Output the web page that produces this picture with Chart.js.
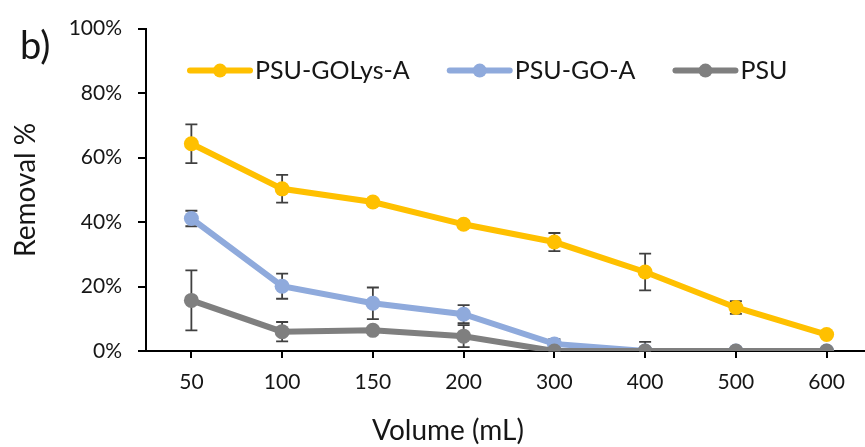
<!DOCTYPE html>
<html>
<head>
<meta charset="utf-8">
<script src="https://cdn.jsdelivr.net/npm/chart.js@4.4.1/dist/chart.umd.min.js"></script>
<style>
    html, body { margin: 0; padding: 0; background: #fff; overflow: hidden; }
    #wrap { position: relative; width: 896px; height: 447px; }
</style>
</head>
<body>
<div id="wrap"><canvas id="removalChart"></canvas></div>
<script>
// values (Removal %, error = half height of the bar)
const volumes = ['50', '100', '150', '200', '300', '400', '500', '600'];
const golysA = [64.3, 50.3, 46.2, 39.3, 33.8, 24.5, 13.5, 5.1];
const golysAErr = [6.0, 4.3, 1.0, 1.0, 2.8, 5.7, 2.0, 0.5];
const goA = [41.1, 20.1, 14.8, 11.4, 2.2, 0, 0, 0];
const goAErr = [2.4, 3.9, 4.9, 2.8, 1.5, 0, 0, 0];
const psu = [15.7, 6.0, 6.4, 4.6, 0, 0, 0, 0];
const psuErr = [9.3, 3.0, 0.8, 3.4, 0.5, 2.8, 0, 0];
const yTicks = [0, 20, 40, 60, 80, 100];

const FONT = 'Lato';
const TEXT = '#161616';

// error bars, drawn under the lines and markers
const errorBars = {
    id: 'errorBars',
    beforeDatasetsDraw(chart) {
        const { ctx, scales: { x, y } } = chart;
        ctx.save();
        ctx.strokeStyle = '#404040';
        ctx.lineWidth = 1.8;
        chart.data.datasets.forEach(ds => {
            ds.data.forEach((v, i) => {
                const e = ds.errors[i];
                if (!e) return;
                const px = x.getPixelForValue(i);
                const top = y.getPixelForValue(v + e);
                const bot = y.getPixelForValue(Math.max(v - e, 0));
                ctx.beginPath();
                ctx.moveTo(px, top); ctx.lineTo(px, bot);
                ctx.moveTo(px - 6, top); ctx.lineTo(px + 6, top);
                ctx.moveTo(px - 6, bot); ctx.lineTo(px + 6, bot);
                ctx.stroke();
            });
        });
        ctx.restore();
    }
};

// legend inside the plot (line + marker), panel letter and x title
const extras = {
    id: 'extras',
    afterDraw(chart) {
        const { ctx, chartArea } = chart;
        ctx.save();
        let lx = chartArea.left + 44;
        const ly = chartArea.top + 42;
        ctx.font = `25px ${FONT}`;
        ctx.textBaseline = 'middle';
        ctx.textAlign = 'left';
        chart.data.datasets.forEach(ds => {
            ctx.strokeStyle = ds.borderColor;
            ctx.lineWidth = 6;
            ctx.lineCap = 'round';
            ctx.beginPath();
            ctx.moveTo(lx, ly); ctx.lineTo(lx + 60, ly);
            ctx.stroke();
            ctx.fillStyle = ds.borderColor;
            ctx.beginPath();
            ctx.arc(lx + 30, ly, 7, 0, Math.PI * 2);
            ctx.fill();
            ctx.fillStyle = TEXT;
            ctx.fillText(ds.label, lx + 65, ly);
            lx += 65 + ctx.measureText(ds.label).width + 40;
        });

        ctx.font = `38px ${FONT}`;
        ctx.fillText('b)', 20, 47);

        ctx.font = `28px ${FONT}`;
        ctx.textAlign = 'center';
        ctx.fillText('Volume (mL)', chart.width / 2, 431);
        ctx.restore();
    }
};

const ctx = document.getElementById('removalChart').getContext('2d');
let myChart = new Chart(ctx, {
    type: 'line',
    data: {
        labels: volumes,
        datasets: [{
            label: 'PSU-GOLys-A',
            data: golysA,
            errors: golysAErr,
            borderColor: '#FFC000',
            backgroundColor: '#FFC000',
            order: 3
        }, {
            label: 'PSU-GO-A',
            data: goA,
            errors: goAErr,
            borderColor: '#8FAADC',
            backgroundColor: '#8FAADC',
            order: 2
        }, {
            label: 'PSU',
            data: psu,
            errors: psuErr,
            borderColor: '#7F7F7F',
            backgroundColor: '#7F7F7F',
            order: 1
        }]
    },
    options: {
        responsive: true,
        maintainAspectRatio: false,
        animation: false,
        layout: { padding: { top: 28, right: 24, left: 0, bottom: 0 } },
        elements: {
            line: { borderWidth: 6, tension: 0 },
            point: { radius: 7.5, borderWidth: 0, hoverRadius: 7.5 }
        },
        plugins: {
            legend: { display: false },
            tooltip: { enabled: false }
        },
        scales: {
            x: {
                offset: true,
                grid: { offset: false, drawOnChartArea: false, tickLength: 7, color: '#000', lineWidth: 2 },
                border: { color: '#000', width: 2 },
                ticks: { color: TEXT, font: { family: FONT, size: 21 }, padding: 12, maxRotation: 0 },
                afterFit(scale) { scale.height = 96; }
            },
            y: {
                min: 0,
                max: 100,
                afterBuildTicks(scale) { scale.ticks = yTicks.map(v => ({ value: v })); },
                grid: { drawOnChartArea: false, tickLength: 8, color: '#000', lineWidth: 2 },
                border: { color: '#000', width: 2 },
                ticks: { color: TEXT, font: { family: FONT, size: 21 }, padding: 16, callback: v => v + '%' },
                title: { display: true, text: 'Removal %', color: TEXT, font: { family: FONT, size: 28 }, padding: { top: 9, bottom: 0 } },
                afterFit(scale) { scale.width = 146; }
            }
        }
    },
    plugins: [errorBars, extras]
});
</script>
</body>
</html>
